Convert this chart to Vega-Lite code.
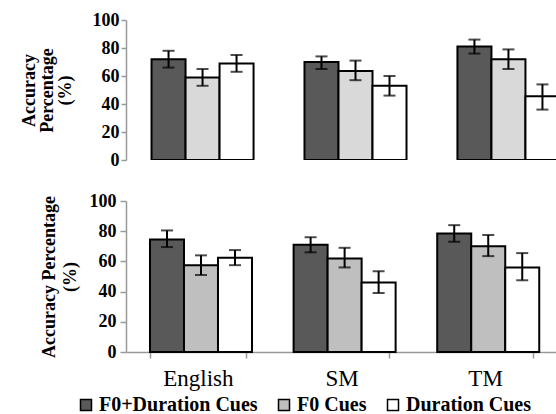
{
  "$schema": "https://vega.github.io/schema/vega-lite/v6.json",
  "padding": {"left": 20, "top": 11, "right": 0, "bottom": 0},
  "background": "white",
  "config": {
    "view": {"stroke": null},
    "font": "Liberation Serif",
    "axis": {"grid": false, "labelOverlap": false, "labelFont": "Liberation Serif", "titleFont": "Liberation Serif"},
    "axisY": {"tickCount": 5},
    "legend": {"labelFont": "Liberation Serif"}
  },
  "data": {"values": [
    {"panel": "top", "lang": "English", "cue": "F0+Duration Cues", "value": 72, "lo": 66, "hi": 78},
    {"panel": "top", "lang": "English", "cue": "F0 Cues", "value": 59, "lo": 53, "hi": 65},
    {"panel": "top", "lang": "English", "cue": "Duration Cues", "value": 69, "lo": 63, "hi": 75},
    {"panel": "top", "lang": "SM", "cue": "F0+Duration Cues", "value": 70, "lo": 65, "hi": 74},
    {"panel": "top", "lang": "SM", "cue": "F0 Cues", "value": 63.5, "lo": 57, "hi": 71},
    {"panel": "top", "lang": "SM", "cue": "Duration Cues", "value": 53, "lo": 46, "hi": 60},
    {"panel": "top", "lang": "TM", "cue": "F0+Duration Cues", "value": 81, "lo": 76, "hi": 86},
    {"panel": "top", "lang": "TM", "cue": "F0 Cues", "value": 72, "lo": 65, "hi": 79},
    {"panel": "top", "lang": "TM", "cue": "Duration Cues", "value": 45.5, "lo": 36, "hi": 54},
    {"panel": "bottom", "lang": "English", "cue": "F0+Duration Cues", "value": 74.5, "lo": 69.5, "hi": 80.5},
    {"panel": "bottom", "lang": "English", "cue": "F0 Cues", "value": 57.5, "lo": 51, "hi": 64},
    {"panel": "bottom", "lang": "English", "cue": "Duration Cues", "value": 62.5, "lo": 57.5, "hi": 67.5},
    {"panel": "bottom", "lang": "SM", "cue": "F0+Duration Cues", "value": 71, "lo": 66, "hi": 76},
    {"panel": "bottom", "lang": "SM", "cue": "F0 Cues", "value": 62, "lo": 56, "hi": 69},
    {"panel": "bottom", "lang": "SM", "cue": "Duration Cues", "value": 46, "lo": 39, "hi": 53.5},
    {"panel": "bottom", "lang": "TM", "cue": "F0+Duration Cues", "value": 78.5, "lo": 73, "hi": 84},
    {"panel": "bottom", "lang": "TM", "cue": "F0 Cues", "value": 70, "lo": 63.5, "hi": 77.5},
    {"panel": "bottom", "lang": "TM", "cue": "Duration Cues", "value": 56, "lo": 47.5, "hi": 65.5}
  ]},
  "spacing": 23,
  "resolve": {"scale": {"fill": "independent", "x": "independent", "y": "independent"}, "legend": {"fill": "independent"}, "axis": {"y": "independent"}},
  "vconcat": [
    {
      "width": 431,
      "height": 140,
      "transform": [{"filter": "datum.panel === 'top'"}],
      "encoding": {
        "x": {"field": "lang", "type": "nominal", "sort": ["English", "SM", "TM"],
              "scale": {"range": [0, 459], "paddingInner": 0.333, "paddingOuter": 0.167}, "axis": null},
        "xOffset": {"field": "cue", "type": "nominal", "sort": ["F0+Duration Cues", "F0 Cues", "Duration Cues"],
                    "scale": {"paddingInner": 0, "paddingOuter": 0}}
      },
      "layer": [
        {
          "mark": {"type": "bar", "stroke": "black", "strokeWidth": 2, "clip": true},
          "encoding": {
            "y": {"field": "value", "type": "quantitative", "scale": {"domain": [0, 100], "nice": false},
                  "axis": {"tickCount": 5, "title": ["Accuracy", "Percentage", "(%)"],
                           "titleFontSize": 18, "titleFontWeight": "bold", "titleColor": "black", "titleLineHeight": 18,
                           "titlePadding": 18, "labelFontSize": 18, "labelFontWeight": "bold", "labelColor": "black",
                           "labelPadding": 2, "tickSize": 5, "tickColor": "#999999", "domainColor": "#999999", "domainWidth": 1.5, "tickWidth": 1.5}},
            "fill": {"field": "cue", "type": "nominal", "sort": ["F0+Duration Cues", "F0 Cues", "Duration Cues"],
                     "scale": {"range": ["#595959", "#d9d9d9", "#ffffff"]}, "legend": null}
          }
        },
        {
          "mark": {"type": "rule", "color": "black", "strokeWidth": 2, "clip": true},
          "encoding": {"y": {"field": "lo", "type": "quantitative"}, "y2": {"field": "hi"}}
        },
        {
          "mark": {"type": "tick", "color": "black", "size": 12, "thickness": 2, "clip": true},
          "encoding": {"y": {"field": "lo", "type": "quantitative"}}
        },
        {
          "mark": {"type": "tick", "color": "black", "size": 12, "thickness": 2, "clip": true},
          "encoding": {"y": {"field": "hi", "type": "quantitative"}}
        }
      ]
    },
    {
      "width": 431,
      "height": 151,
      "transform": [{"filter": "datum.panel === 'bottom'"}],
      "encoding": {
        "x": {"field": "lang", "type": "nominal", "sort": ["English", "SM", "TM"],
              "scale": {"paddingInner": 0.333, "paddingOuter": 0.167},
              "axis": {"title": null, "labelAngle": 0, "labelFontSize": 23, "labelColor": "black", "labelPadding": 9,
                       "tickBand": "extent", "tickSize": 6, "tickColor": "#999999", "domainColor": "#999999", "domainWidth": 1.5, "tickWidth": 1.5}},
        "xOffset": {"field": "cue", "type": "nominal", "sort": ["F0+Duration Cues", "F0 Cues", "Duration Cues"],
                    "scale": {"paddingInner": 0, "paddingOuter": 0}}
      },
      "layer": [
        {
          "mark": {"type": "bar", "stroke": "black", "strokeWidth": 2},
          "encoding": {
            "y": {"field": "value", "type": "quantitative", "scale": {"domain": [0, 100], "nice": false},
                  "axis": {"tickCount": 5, "title": ["Accuracy Percentage", "(%)"],
                           "titleFontSize": 18, "titleFontWeight": "bold", "titleColor": "black", "titleLineHeight": 21,
                           "titlePadding": 10, "labelFontSize": 18, "labelFontWeight": "bold", "labelColor": "black",
                           "labelPadding": 4, "tickSize": 6, "tickColor": "#999999", "domainColor": "#999999", "domainWidth": 1.5, "tickWidth": 1.5}},
            "fill": {"field": "cue", "type": "nominal", "sort": ["F0+Duration Cues", "F0 Cues", "Duration Cues"],
                     "scale": {"range": ["#595959", "#bfbfbf", "#ffffff"]},
                     "legend": {"title": null, "orient": "none", "legendX": -50, "legendY": 194, "direction": "horizontal",
                                "symbolType": "square", "symbolSize": 121, "symbolStrokeColor": "black", "symbolStrokeWidth": 1.5,
                                "labelFont": "Liberation Serif", "labelFontSize": 20, "labelFontWeight": "bold", "labelColor": "black", "labelOffset": 3,
                                "columnPadding": 16, "labelLimit": 300, "padding": 0}}
          }
        },
        {
          "mark": {"type": "rule", "color": "black", "strokeWidth": 2},
          "encoding": {"y": {"field": "lo", "type": "quantitative"}, "y2": {"field": "hi"}}
        },
        {
          "mark": {"type": "tick", "color": "black", "size": 12, "thickness": 2},
          "encoding": {"y": {"field": "lo", "type": "quantitative"}}
        },
        {
          "mark": {"type": "tick", "color": "black", "size": 12, "thickness": 2},
          "encoding": {"y": {"field": "hi", "type": "quantitative"}}
        }
      ]
    }
  ]
}
